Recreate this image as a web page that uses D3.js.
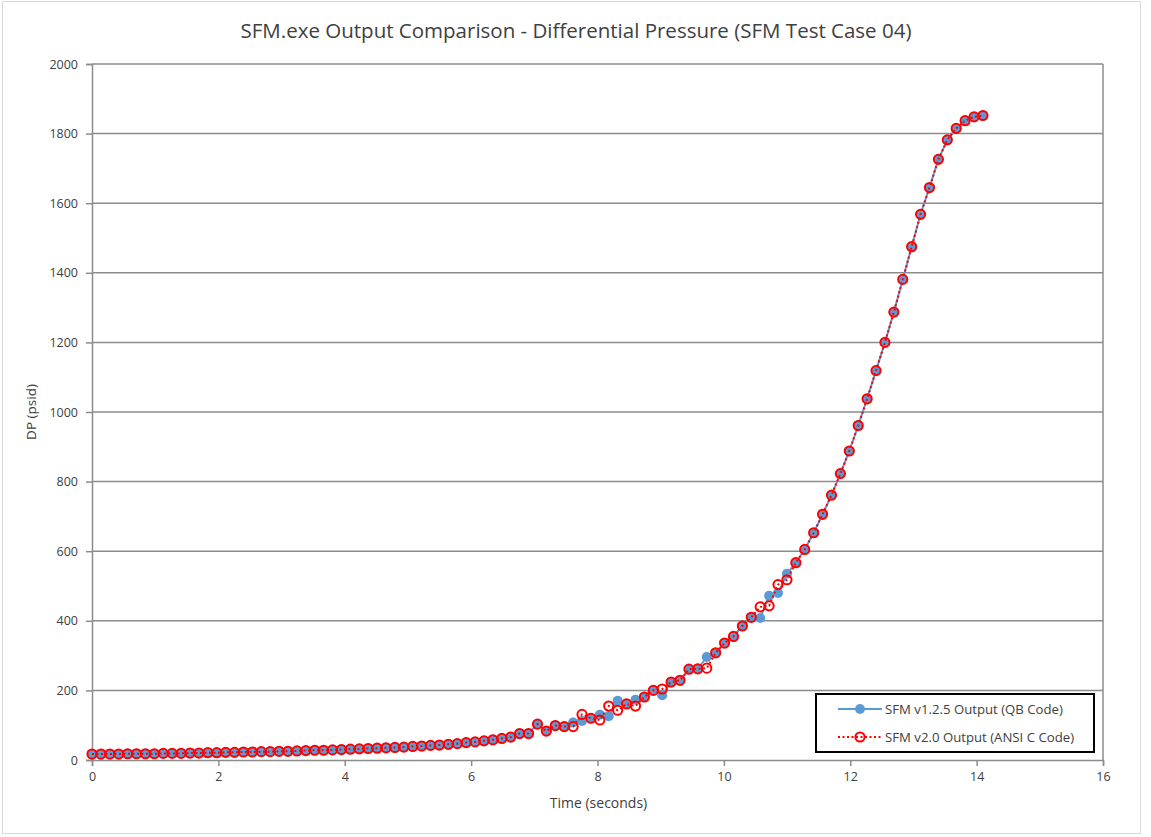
<!DOCTYPE html>
<html>
<head>
<meta charset="utf-8">
<script src="https://cdn.jsdelivr.net/npm/d3@7"></script>
<style>
  html, body { margin: 0; padding: 0; background: #fff; }
  svg { display: block; }
  text { font-family: "Open Sans", "Noto Sans", sans-serif; }
</style>
</head>
<body>
<svg id="chart" width="1151" height="837"></svg>
<script>
// Simulation output times (s)
const time = [0, 0.141, 0.282, 0.423, 0.564, 0.705, 0.846, 0.987, 1.128, 1.269,
  1.41, 1.551, 1.692, 1.833, 1.974, 2.115, 2.256, 2.397, 2.538, 2.679,
  2.82, 2.961, 3.102, 3.243, 3.384, 3.525, 3.666, 3.807, 3.948, 4.089,
  4.23, 4.371, 4.512, 4.653, 4.794, 4.935, 5.076, 5.217, 5.358, 5.499,
  5.64, 5.781, 5.922, 6.063, 6.204, 6.345, 6.486, 6.627, 6.768, 6.909,
  7.05, 7.191, 7.332, 7.473, 7.614, 7.755, 7.896, 8.037, 8.178, 8.319,
  8.46, 8.601, 8.742, 8.883, 9.024, 9.165, 9.306, 9.447, 9.588, 9.729,
  9.87, 10.011, 10.152, 10.293, 10.434, 10.575, 10.716, 10.857, 10.998, 11.139,
  11.28, 11.421, 11.562, 11.703, 11.844, 11.985, 12.126, 12.267, 12.408, 12.549,
  12.69, 12.831, 12.972, 13.113, 13.254, 13.395, 13.536, 13.677, 13.818, 13.959,
  14.1];

// Differential pressure (psid) from SFM v1.2.5 (QB code)
const dpQB = [17, 17, 17, 17, 18, 18, 18, 18, 19, 19,
  19, 20, 20, 21, 21, 22, 22, 23, 23, 24,
  24, 25, 25, 26, 27, 28, 28, 29, 30, 31,
  32, 33, 34, 35, 36, 37, 39, 40, 42, 43,
  45, 47, 50, 52, 55, 58, 62, 66, 76, 76,
  103, 83, 99, 96, 108, 112, 120, 130, 126, 170,
  160, 173, 181, 200, 186, 224, 229, 261, 262, 296,
  308, 336, 355, 385, 410, 408, 472, 480, 535, 567,
  605, 653, 706, 761, 823, 888, 961, 1038, 1119, 1200,
  1287, 1381, 1475, 1568, 1645, 1726, 1782, 1815, 1837, 1848,
  1852];

// Differential pressure (psid) from SFM v2.0 (ANSI C code)
const dpANSI = [17, 17, 17, 17, 18, 18, 18, 18, 19, 19,
  19, 20, 20, 21, 21, 22, 22, 23, 23, 24,
  24, 25, 25, 26, 27, 28, 28, 29, 30, 31,
  32, 33, 34, 35, 36, 37, 39, 40, 42, 43,
  45, 47, 50, 52, 55, 58, 62, 66, 76, 76,
  103, 83, 99, 96, 96, 131, 120, 115, 155, 143,
  161, 155, 181, 200, 204, 224, 229, 261, 262, 264,
  308, 336, 355, 385, 410, 440, 443, 504, 518, 567,
  605, 653, 706, 761, 823, 888, 961, 1038, 1119, 1200,
  1287, 1381, 1475, 1568, 1645, 1726, 1782, 1815, 1837, 1848,
  1852];

const xTicks = [0, 2, 4, 6, 8, 10, 12, 14, 16];
const yTicks = [0, 200, 400, 600, 800, 1000, 1200, 1400, 1600, 1800, 2000];

const titleText = "SFM.exe Output Comparison - Differential Pressure (SFM Test Case 04)";
const xTitle = "Time (seconds)";
const yTitle = "DP (psid)";
const seriesNames = ["SFM v1.2.5 Output (QB Code)", "SFM v2.0 Output (ANSI C Code)"];

const blue = "#5b9bd5";
const red = "#ff0000";
const textColor = "#404040";
const gridColor = "#8c8c8c";

const svg = d3.select("#chart");
const plot = { left: 92, right: 1103, top: 64, bottom: 760 };

const x = d3.scaleLinear().domain([0, 16]).range([plot.left, plot.right]);
const y = d3.scaleLinear().domain([0, 2000]).range([plot.bottom, plot.top]);

// chart frame
svg.append("rect")
  .attr("x", 2.5).attr("y", 1.5).attr("width", 1138).attr("height", 832)
  .attr("fill", "#fff").attr("stroke", "#d9d9d9").attr("stroke-width", 1);

// title
svg.append("text")
  .attr("x", 576).attr("y", 38)
  .attr("text-anchor", "middle")
  .attr("font-size", 20.5).attr("fill", textColor)
  .text(titleText);

// horizontal gridlines
svg.append("g")
  .selectAll("line")
  .data(yTicks.filter(d => d > 0))
  .join("line")
  .attr("x1", plot.left).attr("x2", plot.right)
  .attr("y1", d => y(d)).attr("y2", d => y(d))
  .attr("stroke", gridColor).attr("stroke-width", 1.5);

// right edge of plot area
svg.append("line")
  .attr("x1", plot.right).attr("x2", plot.right)
  .attr("y1", plot.top).attr("y2", plot.bottom)
  .attr("stroke", gridColor).attr("stroke-width", 1.5);

// axes
const xAxis = svg.append("g")
  .attr("transform", `translate(0,${plot.bottom})`)
  .call(d3.axisBottom(x).tickValues(xTicks).tickSize(6).tickPadding(6).tickFormat(d3.format("d")));
const yAxis = svg.append("g")
  .attr("transform", `translate(${plot.left},0)`)
  .call(d3.axisLeft(y).tickValues(yTicks).tickSize(6).tickPadding(8).tickFormat(d3.format("d")));

[xAxis, yAxis].forEach(g => {
  g.select(".domain").attr("stroke", gridColor).attr("stroke-width", 1.5);
  g.selectAll(".tick line").attr("stroke", gridColor).attr("stroke-width", 1.5);
  g.selectAll(".tick text")
    .attr("fill", textColor)
    .attr("font-size", 12.5)
    .style("font-family", "'Open Sans', sans-serif");
});

// axis titles
svg.append("text")
  .attr("x", (plot.left + plot.right) / 2 + 1).attr("y", 808)
  .attr("text-anchor", "middle")
  .attr("font-size", 14).attr("fill", textColor)
  .text(xTitle);
svg.append("text")
  .attr("transform", `translate(36,${(plot.top + plot.bottom) / 2}) rotate(-90)`)
  .attr("text-anchor", "middle")
  .attr("font-size", 13.5).attr("fill", textColor)
  .text(yTitle);

const pointsQB = time.map((t, i) => ({ t, v: dpQB[i] }));
const pointsANSI = time.map((t, i) => ({ t, v: dpANSI[i] }));
const line = d3.line().x(d => x(d.t)).y(d => y(d.v));

// series 1: solid blue line with filled markers
svg.append("path")
  .datum(pointsQB)
  .attr("d", line)
  .attr("fill", "none").attr("stroke", blue).attr("stroke-width", 2);
svg.append("g")
  .selectAll("circle")
  .data(pointsQB)
  .join("circle")
  .attr("cx", d => x(d.t)).attr("cy", d => y(d.v))
  .attr("r", 5).attr("fill", blue);

// series 2: dotted red line with hollow markers
svg.append("path")
  .datum(pointsANSI)
  .attr("d", line)
  .attr("fill", "none").attr("stroke", red).attr("stroke-width", 2)
  .attr("stroke-dasharray", "2,2.5");
svg.append("g")
  .selectAll("circle")
  .data(pointsANSI)
  .join("circle")
  .attr("cx", d => x(d.t)).attr("cy", d => y(d.v))
  .attr("r", 4.6).attr("fill", "none")
  .attr("stroke", red).attr("stroke-width", 2);

// legend
const legend = svg.append("g").attr("transform", "translate(816,694)");
legend.append("rect")
  .attr("width", 278).attr("height", 58)
  .attr("fill", "#fff").attr("stroke", "#000").attr("stroke-width", 2);

const rows = [
  { name: seriesNames[0], color: blue, dash: null, filled: true, y: 15 },
  { name: seriesNames[1], color: red, dash: "2,2.5", filled: false, y: 43 }
];
rows.forEach(r => {
  legend.append("line")
    .attr("x1", 22).attr("x2", 66).attr("y1", r.y).attr("y2", r.y)
    .attr("stroke", r.color).attr("stroke-width", 2)
    .attr("stroke-dasharray", r.dash);
  legend.append("circle")
    .attr("cx", 44).attr("cy", r.y).attr("r", r.filled ? 5 : 4.6)
    .attr("fill", r.filled ? r.color : "none")
    .attr("stroke", r.filled ? "none" : r.color)
    .attr("stroke-width", 2);
  legend.append("text")
    .attr("x", 69).attr("y", r.y).attr("dy", "0.35em")
    .attr("font-size", 13.2).attr("fill", textColor)
    .text(r.name);
});
</script>
</body>
</html>
